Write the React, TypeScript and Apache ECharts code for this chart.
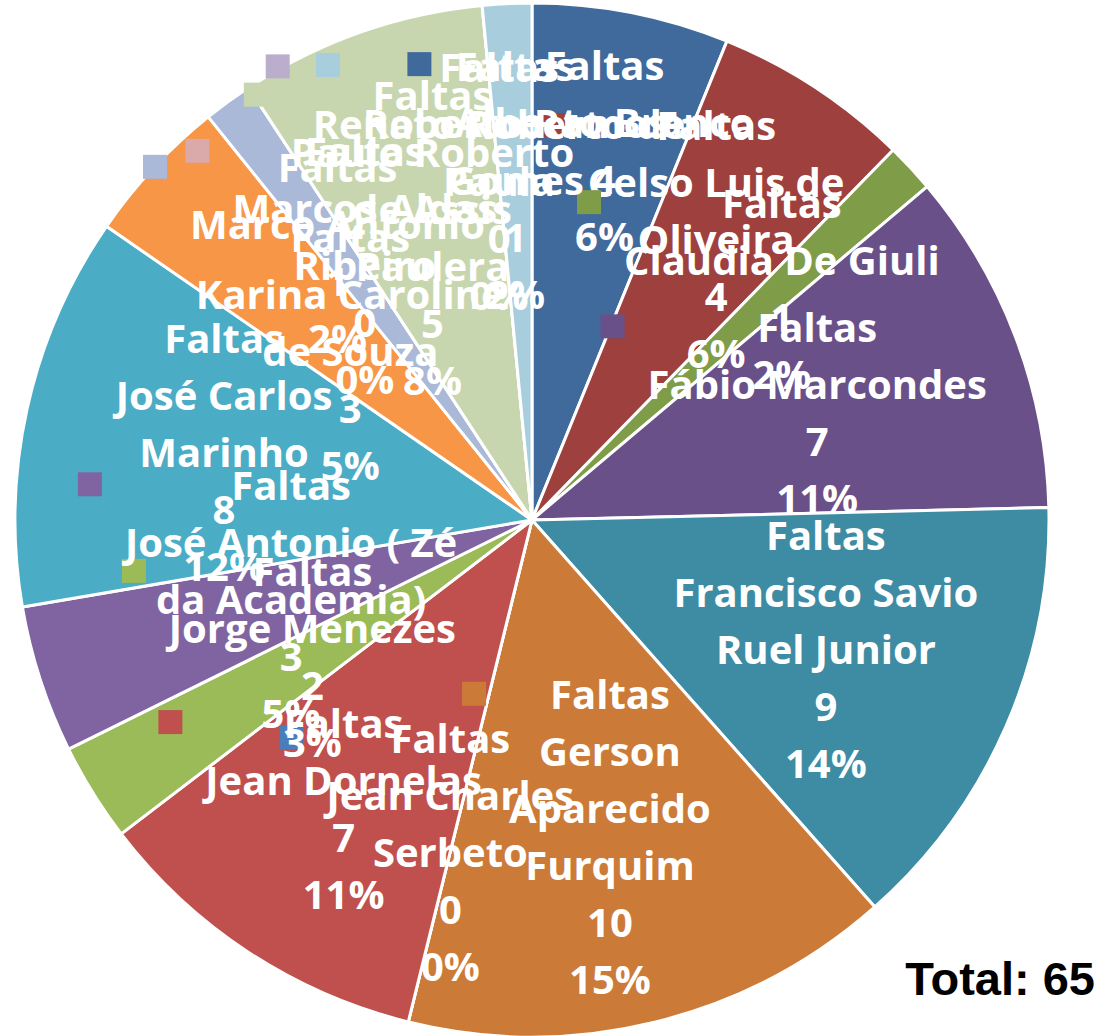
import React, { useEffect, useRef } from "react";
import * as echarts from "echarts";

const seriesName = "Faltas";

const categories = [
  "Alberto Branco",
  "Celso Luis de\nOliveira",
  "Claudia De Giuli",
  "Fábio Marcondes",
  "Francisco Savio\nRuel Junior",
  "Gerson\nAparecido\nFurquim",
  "Jean Charles\nSerbeto",
  "Jean Dornelas",
  "Jorge Menezes",
  "José Antonio ( Zé\nda Academia)",
  "José Carlos\nMarinho",
  "Karina Caroline\nde Souza",
  "Marco Antonio",
  "Marcos Aldas\nRibeiro",
  "Paulo Roberto\nde Assis\nPaulera",
  "Renato Roberto de\nPaula",
  "Roberto Ramos\nGomes",
];

const values = [4, 4, 1, 7, 9, 10, 0, 7, 2, 3, 8, 3, 1, 0, 5, 0, 1];

const colors = [
  "#416A9C",
  "#9E403D",
  "#7F9C48",
  "#6A5088",
  "#3D8CA3",
  "#CC7A37",
  "#4A7EBB",
  "#C0504D",
  "#9BBB59",
  "#8064A2",
  "#4BACC6",
  "#F79646",
  "#AAB9D8",
  "#D9AAA9",
  "#C7D6AE",
  "#BAAECC",
  "#A8CEDD",
];

// label placement (fraction of the pie radius), mimicking the "best fit" placement
const labelRadius = [
  0.73, 0.65, 0.66, 0.59, 0.62, 0.63, 0.66, 0.665, 0.5, 0.49, 0.61, 0.48, 0.64, 0.59, 0.58,
  0.66, 0.66,
];

export default function App() {
  const ref = useRef<HTMLDivElement>(null);

  useEffect(() => {
    if (!ref.current) return;
    const chart = echarts.init(ref.current, null, { renderer: "svg" });
    const total = values.reduce((a, b) => a + b, 0);
    const fontFamily = '"Open Sans", sans-serif';
    const fontSize = 40;
    const lineH = 57;
    const canvas = document.createElement("canvas");
    const ctx = canvas.getContext("2d")!;
    ctx.font = `bold ${fontSize}px "Open Sans"`;
    const wF = ctx.measureText(seriesName).width;
    const pct = (v: number) => Math.round((v / total) * 100);

    // cumulative mid-angle of each slice (in value units), used on the polar angle axis
    const mids: number[] = [];
    let acc = 0;
    values.forEach((v) => {
      mids.push(acc + v / 2);
      acc += v;
    });

    const labelData = categories.map((name, i) => {
      const lines = [seriesName, ...name.split("\n"), String(values[i]), pct(values[i]) + "%"];
      const W = Math.max(...lines.map((l) => ctx.measureText(l).width));
      const s1 = Math.max(0, (W + 46 - wF) / 2);
      return {
        name,
        value: [labelRadius[i], mids[i]],
        label: {
          rich: {
            m: { width: 24, height: 24, backgroundColor: colors[i], lineHeight: lineH },
            s: { width: s1, lineHeight: lineH },
            p: { width: s1 + 24, lineHeight: lineH },
          },
        },
      };
    });

    const visibleData = categories.map((name, i) => ({
      name,
      value: values[i],
      itemStyle: { color: colors[i] },
    }));

    chart.setOption({
      animation: false,
      backgroundColor: "#ffffff",
      polar: { center: [532, 520], radius: 517 },
      angleAxis: {
        type: "value",
        min: 0,
        max: total,
        startAngle: 90,
        clockwise: true,
        show: false,
      },
      radiusAxis: { type: "value", min: 0, max: 1, show: false },
      series: [
        {
          type: "pie",
          name: seriesName,
          center: [532, 520],
          radius: [0, 517],
          startAngle: 90,
          clockwise: true,
          silent: true,
          label: { show: false },
          labelLine: { show: false },
          itemStyle: { borderColor: "#ffffff", borderWidth: 3 },
          data: visibleData,
        },
        {
          type: "scatter",
          coordinateSystem: "polar",
          name: seriesName,
          symbolSize: 0,
          silent: true,
          z: 10,
          itemStyle: { opacity: 1 },
          label: {
            show: true,
            position: "inside",
            color: "#ffffff",
            opacity: 1,
            fontFamily,
            fontSize,
            fontWeight: "bold",
            lineHeight: lineH,
            align: "center",
            verticalAlign: "middle",
            textBorderWidth: 0,
            formatter: (p: any) =>
              `{m|}{s|}${seriesName}{p|}\n${categories[p.dataIndex]}\n${values[p.dataIndex]}\n${pct(values[p.dataIndex])}%`,
          },
          data: labelData,
        },
      ],
      graphic: [
        {
          type: "text",
          right: 17,
          top: 955,
          style: {
            text: `Total: ${total}`,
            font: 'bold 47px "Liberation Sans", Arial, sans-serif',
            fill: "#000000",
          },
        },
      ],
    });

    return () => chart.dispose();
  }, []);

  return (
    <div
      ref={ref}
      style={{ position: "absolute", left: 0, top: 0, width: 1112, height: 1036 }}
    />
  );
}
